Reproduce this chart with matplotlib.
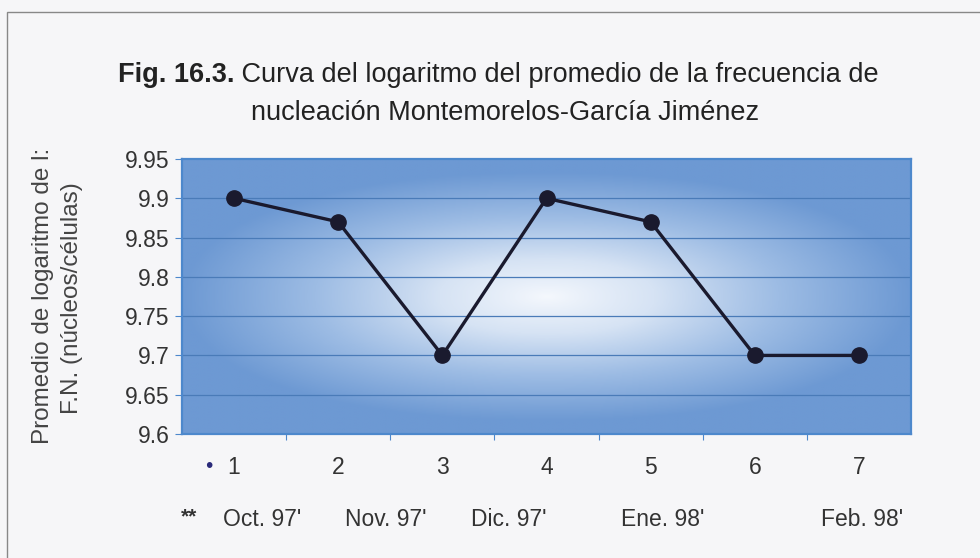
import numpy as np
import matplotlib
matplotlib.use('Agg')
from matplotlib import pyplot as plt
from matplotlib.colors import LinearSegmentedColormap
from matplotlib.transforms import blended_transform_factory

plt.rcParams['font.family'] = ['Liberation Sans', 'DejaVu Sans']

# data
samples = [1, 2, 3, 4, 5, 6, 7]
values = [9.90, 9.87, 9.70, 9.90, 9.87, 9.70, 9.70]
months = ["Oct. 97'", "Nov. 97'", "Dic. 97'", "Ene. 98'", "Feb. 98'"]
month_pos = [1.27, 2.46, 3.64, 5.12, 7.03]
yticks = [9.6, 9.65, 9.7, 9.75, 9.8, 9.85, 9.9, 9.95]

txt = '#333333'

fig = plt.figure(figsize=(9.8, 5.58), dpi=100)
fig.patch.set_facecolor('#f6f6f8')

# outer frame of the scanned figure
frame = plt.Rectangle((7/980, -0.05), 1.2, 1 - 12/558 + 0.05, transform=fig.transFigure,
                      fill=False, edgecolor='#888888', lw=1.0)
fig.patches.append(frame)

ax = fig.add_axes([182/980, 1 - 434/558, 729/980, 275/558])

# center gradient background
gx = np.linspace(-1, 1, 400)
gy = np.linspace(-1, 1, 250)
X, Y = np.meshgrid(gx, gy)
p = 2.2
d = (np.abs(X)**p + np.abs(Y * 1.1)**p)**(1/p)
d = np.clip(d, 0, 1)**0.9
cmap = LinearSegmentedColormap.from_list('bg', ['#f5f8fd', '#d6e3f4', '#9dbce4', '#6d99d3'])
ax.imshow(d, cmap=cmap, extent=[0, 1, 0, 1], transform=ax.transAxes,
          aspect='auto', zorder=0, vmin=0, vmax=1, interpolation='bilinear')

ax.set_xlim(0.5, 7.5)
ax.set_ylim(9.6, 9.95)
ax.set_yticks(yticks)
ax.set_yticklabels(['9.6', '9.65', '9.7', '9.75', '9.8', '9.85', '9.9', '9.95'],
                   fontsize=16.5, color=txt)
for yv in yticks[1:-1]:
    ax.axhline(yv, color='#4a7bb8', lw=0.9, zorder=1)

ax.plot(samples, values, color='#1a1a2e', lw=2.4, marker='o', markersize=11,
        markerfacecolor='#1a1a2e', markeredgecolor='#1a1a2e', zorder=3)

ax.set_xticks(np.arange(1.5, 7.5, 1))
ax.set_xticklabels([])
ax.tick_params(axis='x', length=4, color='#4d88cc', direction='out')
ax.tick_params(axis='y', length=5, color='#4d88cc', direction='out', pad=4)
for s in ax.spines.values():
    s.set_color('#4d88cc')
    s.set_linewidth(1.6)

trans = blended_transform_factory(ax.transData, fig.transFigure)
for xv in samples:
    ax.text(xv, 1 - 468/558, str(xv), transform=trans, ha='center', va='center',
            fontsize=16.5, color=txt)
ax.text(0.76, 1 - 467/558, u'\u2022', transform=trans, ha='center', va='center',
        fontsize=15, color='#2a2a7a')
ax.text(0.57, 1 - 517/558, '**', transform=trans, ha='center', va='center',
        fontsize=15, color=txt, fontweight='bold')
for m, xm in zip(months, month_pos):
    ax.text(xm, 1 - 520/558, m, transform=trans, ha='center', va='center',
            fontsize=16.5, color=txt)

# y label (two lines, first one cut at the top)
fig.text(43/980, 1 - 296/558, 'Promedio de logaritmo de l:', rotation=90,
         ha='center', va='center', fontsize=17.5, color='#444444')
fig.text(72/980, 1 - 298/558, 'F.N. (núcleos/células)', rotation=90,
         ha='center', va='center', fontsize=17.5, color='#444444')

# title with bold figure number
fig.canvas.draw()
r = fig.canvas.get_renderer()
t1 = fig.text(118/980, 1 - 75/558, 'Fig. 16.3.', fontweight='bold', fontsize=19.5,
              ha='left', va='center', color='#222222')
bb = t1.get_window_extent(r)
fig.text(bb.x1 / fig.bbox.width, 1 - 75/558,
         ' Curva del logaritmo del promedio de la frecuencia de', fontsize=19.5,
         ha='left', va='center', color='#222222')
fig.text(505/980, 1 - 113/558, 'nucleación Montemorelos-García Jiménez', fontsize=19.5,
         ha='center', va='center', color='#222222')

fig.savefig('out.png', dpi=100, facecolor=fig.get_facecolor())
